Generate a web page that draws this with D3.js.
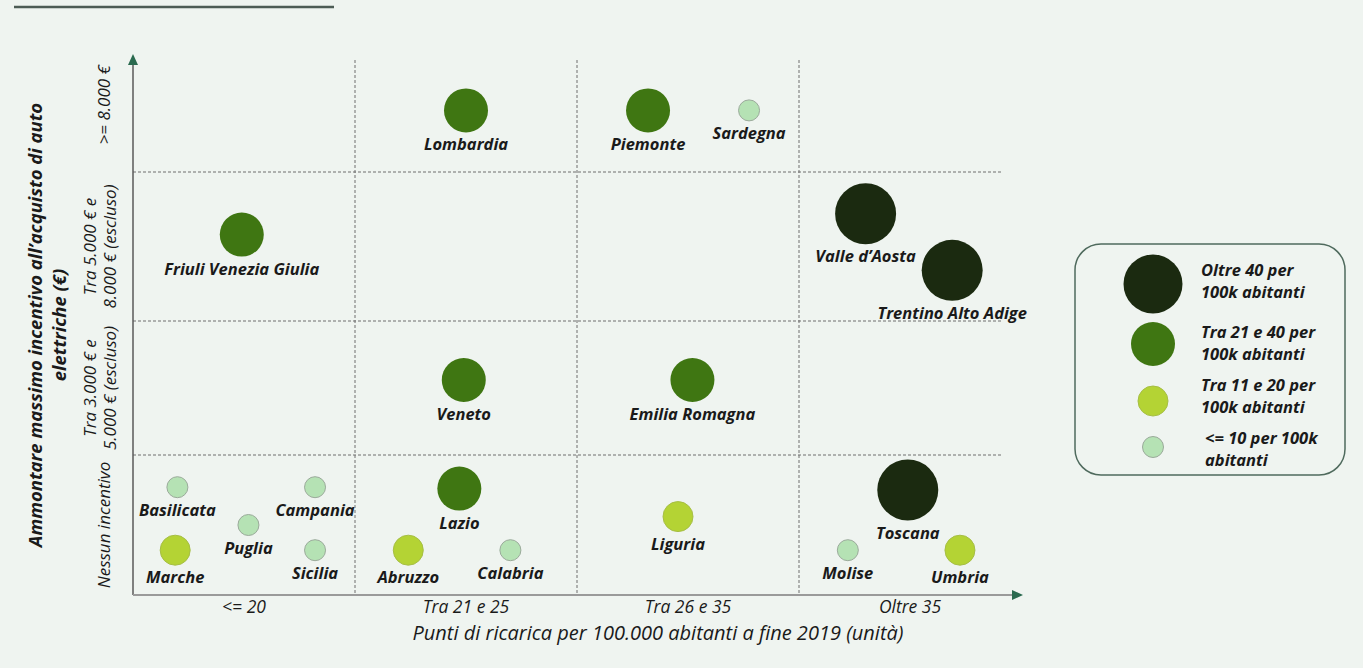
<!DOCTYPE html>
<html><head><meta charset="utf-8">
<script src="https://cdn.jsdelivr.net/npm/d3@7"></script>
<style>
html,body{margin:0;padding:0;background:#eff4f0;}
svg{display:block;font-family:"Open Sans",Lato,sans-serif;}
</style></head>
<body><svg id="c" width="1363" height="668"></svg>
<script>
const regions = ["Lombardia","Piemonte","Sardegna","Friuli Venezia Giulia","Valle d’Aosta","Trentino Alto Adige","Veneto","Emilia Romagna","Basilicata","Campania","Puglia","Marche","Sicilia","Lazio","Abruzzo","Calabria","Liguria","Toscana","Molise","Umbria"];
// position in column units (0-4) and row units (0-4)
const xPos = [1.50,2.32,2.775,0.49,3.30,3.69,1.49,2.52,0.20,0.82,0.52,0.19,0.82,1.47,1.24,1.70,2.455,3.49,3.22,3.725];
const yPos = [3.55,3.55,3.55,2.58,2.72,2.34,1.56,1.56,0.77,0.77,0.50,0.32,0.32,0.76,0.32,0.32,0.56,0.75,0.32,0.32];
// class of EV per 100k inhabitants: 0 = oltre 40, 1 = 21-40, 2 = 11-20, 3 = <=10
const evClass = [1,1,3,1,0,0,1,1,3,3,3,2,3,1,2,3,2,0,3,2];
const xTickLabels = ["<= 20","Tra 21 e 25","Tra 26 e 35","Oltre 35"];
const yTickLabels = [["Nessun incentivo"],["Tra 3.000 € e","5.000 € (escluso)"],["Tra 5.000 € e","8.000 € (escluso)"],[">= 8.000 €"]];
const yTickPos = [0.5,1.5,2.5,3.6];
const legendLabels = [["Oltre 40 per","100k abitanti"],["Tra 21 e 40 per","100k abitanti"],["Tra 11 e 20 per","100k abitanti"],["<= 10 per 100k","abitanti"]];
const classColors = ["#1b2a10","#3f7612","#b4d334","#b5e2b4"];
const classRadius = [30.5,22,15,10.5];

const svg = d3.select("#c");
const x = d3.scaleLinear().domain([0,4]).range([133,1021]);
const y = d3.scaleLinear().domain([0,1,2,3,4]).range([595,455,321,172,60]);
const r = d3.scaleOrdinal().domain([0,1,2,3]).range(classRadius);
const col = d3.scaleOrdinal().domain([0,1,2,3]).range(classColors);

// top decorative line
svg.append("line").attr("x1",14).attr("x2",334).attr("y1",7).attr("y2",7)
  .attr("stroke","#4d5c55").attr("stroke-width",2.5);

// grid dashed lines
const g = svg.append("g");
[1,2,3].forEach(i=>{
  g.append("line").attr("x1",x(i)).attr("x2",x(i)).attr("y1",y(4)).attr("y2",y(0))
    .attr("stroke","#6f6f6f").attr("stroke-width",1).attr("stroke-dasharray","3,2");
  g.append("line").attr("x1",x(0)).attr("x2",x(4)-19).attr("y1",y(i)).attr("y2",y(i))
    .attr("stroke","#6f6f6f").attr("stroke-width",1).attr("stroke-dasharray","3,2");
});

// axes
svg.append("line").attr("x1",x(0)).attr("x2",x(0)).attr("y1",y(0)).attr("y2",y(4)+2)
  .attr("stroke","#5a5a5a").attr("stroke-width",1.5);
svg.append("line").attr("x1",x(0)).attr("x2",x(4)-6).attr("y1",y(0)).attr("y2",y(0))
  .attr("stroke","#9a9a9a").attr("stroke-width",2);
svg.append("path").attr("d",`M${x(0)},${y(4)-6} L${x(0)-5},${y(4)+5} L${x(0)+5},${y(4)+5} Z`).attr("fill","#2a6a4f");
svg.append("path").attr("d",`M${x(4)+2},${y(0)} L${x(4)-9},${y(0)-5} L${x(4)-9},${y(0)+5} Z`).attr("fill","#2a6a4f");

// x tick labels
svg.append("g").selectAll("text").data(xTickLabels).join("text")
  .attr("x",(d,i)=>x(i+0.5)).attr("y",613).attr("text-anchor","middle")
  .attr("font-size",17.5).attr("font-style","italic").attr("fill","#1a1a1a").text(d=>d);
// x title
svg.append("text").attr("x",658).attr("y",640).attr("text-anchor","middle")
  .attr("font-size",20).attr("font-style","italic").attr("fill","#1a1a1a")
  .text("Punti di ricarica per 100.000 abitanti a fine 2019 (unità)");

// y tick labels (rotated)
yTickLabels.forEach((lines,i)=>{
  const t = svg.append("text").attr("transform",`translate(${lines.length===1?110:96},${y(yTickPos[i])}) rotate(-90)`)
    .attr("text-anchor","middle").attr("font-size",17).attr("font-style","italic").attr("fill","#1a1a1a");
  lines.forEach((l,j)=>t.append("tspan").attr("x",0).attr("dy",j===0?0:20).text(l));
});
// y title
const yt = svg.append("text").attr("transform",`translate(42,325) rotate(-90)`)
  .attr("text-anchor","middle").attr("font-size",18.5).attr("font-weight","bold").attr("font-style","italic").attr("fill","#1a1a1a");
yt.append("tspan").attr("x",0).attr("dy",0).text("Ammontare massimo incentivo all’acquisto di auto");
yt.append("tspan").attr("x",0).attr("dy",24).text("elettriche (€)");

// bubbles
const data = regions.map((n,i)=>({name:n,x:xPos[i],y:yPos[i],c:evClass[i]}));
const bg = svg.append("g");
bg.selectAll("circle").data(data).join("circle")
  .attr("cx",d=>x(d.x)).attr("cy",d=>y(d.y)).attr("r",d=>r(d.c))
  .attr("fill",d=>col(d.c)).attr("stroke",d=>d.c===3?"#9aaa9a":(d.c===2?"#a6be45":"none")).attr("stroke-width",1);
bg.selectAll("text").data(data).join("text")
  .attr("x",d=>x(d.x)).attr("y",d=>y(d.y)+r(d.c)+18).attr("text-anchor","middle")
  .attr("font-size",16.5).attr("font-weight","bold").attr("font-style","italic").attr("fill","#1a1a1a")
  .text(d=>d.name);

// legend
const lg = svg.append("g");
lg.append("rect").attr("x",1075).attr("y",244).attr("width",270).attr("height",231).attr("rx",26)
  .attr("fill","none").attr("stroke","#4f6a5d").attr("stroke-width",1.5);
const legY = [284,344,401,447];
const legTextY = [276,338,391,444];
legendLabels.forEach((lines,i)=>{
  lg.append("circle").attr("cx",1153).attr("cy",legY[i]).attr("r",r(i)-(i===0?1:0))
    .attr("fill",col(i)).attr("stroke",i===3?"#9aaa9a":(i===2?"#a6be45":"none"));
  const t = lg.append("text").attr("x",i===3?1205:1201).attr("y",legTextY[i])
    .attr("font-size",16.5).attr("font-weight","bold").attr("font-style","italic").attr("fill","#1a1a1a");
  lines.forEach((l,j)=>t.append("tspan").attr("x",i===3?1205:1201).attr("dy",j===0?0:22).text(l));
});
</script></body></html>
